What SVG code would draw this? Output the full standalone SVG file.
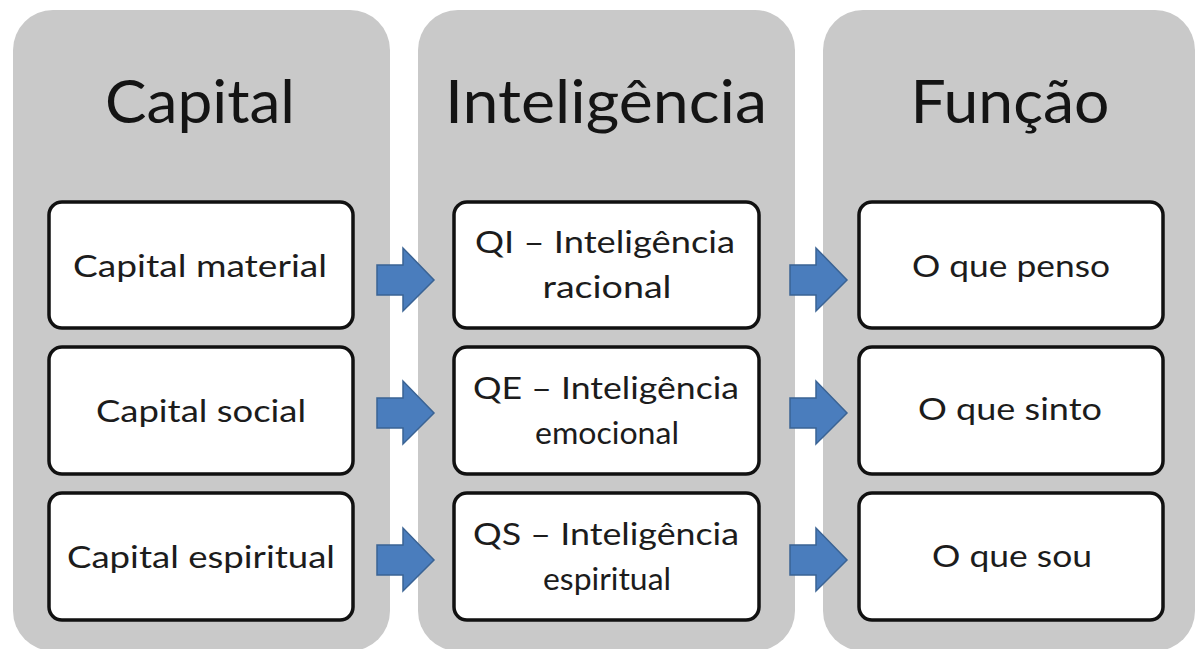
<svg xmlns="http://www.w3.org/2000/svg" xmlns:xlink="http://www.w3.org/1999/xlink" width="1197" height="649" viewBox="0 0 1197 649">
  <style>
    .col { fill: #c9c9c9; }
    .box { fill: #ffffff; stroke: #111111; stroke-width: 3.5; }
    .title { font-family: Lato, "Open Sans", sans-serif; font-size: 60px; fill: #141414; text-anchor: middle; }
    .lbl { font-family: Lato, "Open Sans", sans-serif; font-size: 31px; fill: #1c1c1c; text-anchor: middle; }
    .arrow { fill: #4a7dbd; stroke: #3a6394; stroke-width: 1.5; stroke-linejoin: miter; }
  </style>
  <defs>
    <path id="arr" d="M0,-15 H26 V-32 L57,0 L26,31 V15 H0 Z"/>
  </defs>
  <rect width="1197" height="649" fill="#ffffff"/>

  <g id="col-capital">
    <rect class="col" x="13" y="10" width="377" height="641" rx="40" ry="40"/>
    <text class="title" x="200" y="123" textLength="190" lengthAdjust="spacingAndGlyphs">Capital</text>
  </g>
  <g id="col-inteligencia">
    <rect class="col" x="418" y="10" width="377" height="641" rx="40" ry="40"/>
    <text class="title" x="606" y="123" textLength="322" lengthAdjust="spacingAndGlyphs">Inteligência</text>
  </g>
  <g id="col-funcao">
    <rect class="col" x="823" y="10" width="372" height="641" rx="40" ry="40"/>
    <text class="title" x="1010" y="123" textLength="199" lengthAdjust="spacingAndGlyphs">Função</text>
  </g>

  <g id="n-capital-material">
    <rect class="box" x="49" y="202" width="304" height="126" rx="13"/>
    <text class="lbl" x="200" y="277" textLength="254" lengthAdjust="spacingAndGlyphs">Capital material</text>
  </g>
  <g id="n-capital-social">
    <rect class="box" x="49" y="347" width="304" height="127" rx="13"/>
    <text class="lbl" x="201" y="422" textLength="210" lengthAdjust="spacingAndGlyphs">Capital social</text>
  </g>
  <g id="n-capital-espiritual">
    <rect class="box" x="49" y="493" width="304" height="127" rx="13"/>
    <text class="lbl" x="201" y="568" textLength="268" lengthAdjust="spacingAndGlyphs">Capital espiritual</text>
  </g>

  <g id="n-qi">
    <rect class="box" x="454" y="202" width="305" height="126" rx="13"/>
    <text class="lbl" x="605" y="253" textLength="260" lengthAdjust="spacingAndGlyphs">QI – Inteligência</text>
    <text class="lbl" x="607" y="298" textLength="129" lengthAdjust="spacingAndGlyphs">racional</text>
  </g>
  <g id="n-qe">
    <rect class="box" x="454" y="347" width="305" height="127" rx="13"/>
    <text class="lbl" x="606" y="399" textLength="266" lengthAdjust="spacingAndGlyphs">QE – Inteligência</text>
    <text class="lbl" x="607" y="444" textLength="144" lengthAdjust="spacingAndGlyphs">emocional</text>
  </g>
  <g id="n-qs">
    <rect class="box" x="454" y="493" width="305" height="127" rx="13"/>
    <text class="lbl" x="606" y="545" textLength="266" lengthAdjust="spacingAndGlyphs">QS – Inteligência</text>
    <text class="lbl" x="607" y="590" textLength="128" lengthAdjust="spacingAndGlyphs">espiritual</text>
  </g>

  <g id="n-penso">
    <rect class="box" x="859" y="202" width="304" height="126" rx="13"/>
    <text class="lbl" x="1011" y="277" textLength="198" lengthAdjust="spacingAndGlyphs">O que penso</text>
  </g>
  <g id="n-sinto">
    <rect class="box" x="859" y="347" width="304" height="127" rx="13"/>
    <text class="lbl" x="1010" y="420" textLength="184" lengthAdjust="spacingAndGlyphs">O que sinto</text>
  </g>
  <g id="n-sou">
    <rect class="box" x="859" y="493" width="304" height="127" rx="13"/>
    <text class="lbl" x="1012" y="567" textLength="160" lengthAdjust="spacingAndGlyphs">O que sou</text>
  </g>

  <g id="connectors">
    <use class="arrow" xlink:href="#arr" transform="translate(377,280)"/>
    <use class="arrow" xlink:href="#arr" transform="translate(377,413)"/>
    <use class="arrow" xlink:href="#arr" transform="translate(377,560)"/>
    <use class="arrow" xlink:href="#arr" transform="translate(790,280)"/>
    <use class="arrow" xlink:href="#arr" transform="translate(790,413)"/>
    <use class="arrow" xlink:href="#arr" transform="translate(790,560)"/>
  </g>
</svg>
